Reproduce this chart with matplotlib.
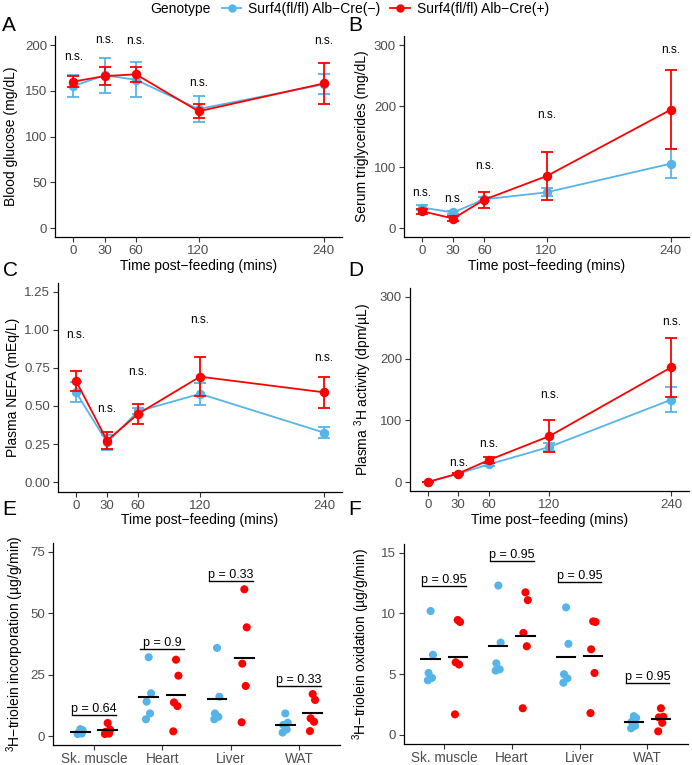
import numpy as np
import matplotlib
matplotlib.use("Agg")
import matplotlib.pyplot as plt
from matplotlib.lines import Line2D

plt.rcParams['font.family'] = ['Liberation Sans', 'DejaVu Sans']
plt.rcParams['mathtext.fontset'] = 'custom'
plt.rcParams['mathtext.rm'] = 'Liberation Sans'
plt.rcParams['mathtext.it'] = 'Liberation Sans:italic'

# ---- data ----
times = [0, 30, 60, 120, 240]

# A: blood glucose
glu_neg = [155, 167, 162, 130, 157]
glu_neg_se = [12, 19, 19, 14, 11]
glu_pos = [160, 166, 168, 127.5, 158]
glu_pos_se = [6, 9.5, 8.5, 7.5, 22]
glu_ns = [187, 206, 204, 159, 204]

# B: serum triglycerides
tg_neg = [33.5, 25.5, 47, 58.5, 105.5]
tg_neg_se = [3.5, 2.7, 3.5, 6.6, 23.7]
tg_pos = [27.5, 15.5, 46.5, 85, 194]
tg_pos_se = [4, 3.5, 13, 39.5, 64.5]
tg_ns = [58, 47.5, 102, 185.5, 292]

# C: plasma NEFA
nefa_neg = [0.59, 0.26, 0.465, 0.58, 0.325]
nefa_neg_se = [0.066, 0.05, 0.02, 0.072, 0.036]
nefa_pos = [0.665, 0.272, 0.448, 0.693, 0.59]
nefa_pos_se = [0.065, 0.057, 0.068, 0.13, 0.104]
nefa_ns = [0.965, 0.478, 0.724, 1.068, 0.816]

# D: plasma 3H activity
h3_neg = [0, 13.5, 28.5, 57, 133.5]
h3_neg_se = [0.5, 1.5, 3, 6.5, 20.5]
h3_pos = [0, 13.8, 35.5, 74.5, 186]
h3_pos_se = [0.5, 1.5, 5, 26.5, 48]
h3_ns = [np.nan, 31, 61, 141, 259]

# E/F: tissue uptake / oxidation
tissues = ["Sk. muscle", "Heart", "Liver", "WAT"]
inc_neg = [[2.8, 2.3, 1.3, 1.0, 0.8],
           [32.1, 17.4, 14.0, 9.2, 6.8],
           [35.9, 16.0, 9.2, 7.8, 6.8],
           [9.2, 5.4, 4.5, 2.7, 1.4]]
inc_pos = [[5.3, 2.6, 1.7, 1.0, 0.8],
           [31.1, 24.6, 13.7, 12.2, 1.9],
           [59.8, 44.3, 29.5, 20.4, 5.6],
           [17.1, 14.7, 7.2, 5.8, 2.0]]
inc_p = ["0.64", "0.9", "0.33", "0.33"]

oxi_neg = [[10.2, 6.6, 5.1, 4.7, 4.5],
           [12.3, 7.6, 5.9, 5.4, 5.3],
           [10.5, 7.5, 5.0, 4.66, 4.3],
           [1.55, 1.4, 1.1, 0.75, 0.55]]
oxi_pos = [[9.46, 9.3, 5.98, 5.8, 1.7],
           [11.74, 11.1, 8.4, 7.3, 2.2],
           [9.35, 9.3, 7.05, 5.1, 1.8],
           [2.2, 1.5, 1.45, 1.0, 0.3]]
oxi_p = ["0.95", "0.95", "0.95", "0.95"]

BLUE = "#56B4E9"
RED = "#FF0000"
GREY = "#4D4D4D"
W, H = 692, 765

fig = plt.figure(figsize=(W / 100, H / 100), dpi=100)


def add_ax(l, t, r, b):
    ax = fig.add_axes([l / W, 1 - b / H, (r - l) / W, (b - t) / H])
    ax.spines[['top', 'right']].set_visible(False)
    ax.spines[['left', 'bottom']].set_linewidth(0.9)
    ax.tick_params(length=3.5, width=0.8, pad=2.3, labelsize=9.5,
                   labelcolor=GREY, color="#333333")
    ax.patch.set_alpha(0)
    ax._box = (l, r)
    return ax


def ylabel_at(ax, text, xpx):
    l, r = ax._box
    ax.set_ylabel(text, fontsize=10)
    ax.yaxis.set_label_coords((xpx - l) / (r - l), 0.5)


def time_panel(box, neg, neg_se, pos, pos_se, ns, ylim, yticks, ytlabels, ylab, ylab_x):
    ax = add_ax(*box)
    ax.errorbar(times, neg, yerr=neg_se, color=BLUE, marker='o', ms=5.8,
                lw=1.3, elinewidth=1.3, capsize=4, capthick=1.3, zorder=2)
    ax.errorbar(times, pos, yerr=pos_se, color=RED, marker='o', ms=5.8,
                lw=1.3, elinewidth=1.3, capsize=4, capthick=1.3, zorder=3)
    for t, y in zip(times, ns):
        if not np.isnan(y):
            ax.text(t, y, "n.s.", ha='center', va='center', fontsize=8.5)
    ax.set_xlim(-17.5, 257.5)
    ax.set_xticks(times)
    ax.set_ylim(*ylim)
    ax.set_yticks(yticks)
    ax.set_yticklabels(ytlabels)
    ax.set_xlabel("Time post\u2212feeding (mins)", fontsize=10, labelpad=1)
    ylabel_at(ax, ylab, ylab_x)
    return ax


def dot_panel(box, neg, pos, pvals, offset, ylim, yticks, ylab, ylab_x):
    ax = add_ax(*box)
    jit = [0.0, 0.035, -0.03, 0.02, -0.04]
    for i, (gn, gp) in enumerate(zip(neg, pos)):
        c = i + 1
        for grp, dx, col in ((gn, -0.2, BLUE), (gp, 0.2, RED)):
            xs = [c + dx + jit[k % len(jit)] for k in range(len(grp))]
            ax.scatter(xs, grp, s=34, color=col, edgecolors='none', zorder=2)
            m = np.mean(grp)
            ax.plot([c + dx - 0.135, c + dx + 0.135], [m, m], color='black', lw=1.5, zorder=3)
        top = max(max(gn), max(gp)) + offset
        ax.plot([c - 0.32, c + 0.32], [top, top], color='black', lw=1.0)
        ax.text(c, top, "p = " + pvals[i], ha='center', va='bottom', fontsize=9)
    ax.set_xlim(0.4, 4.6)
    ax.set_xticks(range(1, 5))
    ax.set_xticklabels(tissues, fontsize=9.8)
    ax.tick_params(axis='x', pad=1.5)
    ax.set_ylim(*ylim)
    ax.set_yticks(yticks)
    ylabel_at(ax, ylab, ylab_x)
    return ax


time_panel((55, 35.85, 342, 237.15), glu_neg, glu_neg_se, glu_pos, glu_pos_se, glu_ns,
           (-10, 210), [0, 50, 100, 150, 200], ["0", "50", "100", "150", "200"],
           "Blood glucose (mg/dL)", 18.5)
time_panel((404, 35.85, 689, 237.15), tg_neg, tg_neg_se, tg_pos, tg_pos_se, tg_ns,
           (-15, 315), [0, 100, 200, 300], ["0", "100", "200", "300"],
           "Serum triglycerides (mg/dL)", 369)
time_panel((58, 282.5, 342, 491.5), nefa_neg, nefa_neg_se, nefa_pos, nefa_pos_se, nefa_ns,
           (-0.0625, 1.3125), [0, 0.25, 0.5, 0.75, 1.0, 1.25],
           ["0.00", "0.25", "0.50", "0.75", "1.00", "1.25"],
           "Plasma NEFA (mEq/L)", 20)
time_panel((410, 287.7, 689, 491.3), h3_neg, h3_neg_se, h3_pos, h3_pos_se, h3_ns,
           (-15, 315), [0, 100, 200, 300], ["0", "100", "200", "300"],
           "Plasma $^{3}$H activity (dpm/\u00b5L)", 374)
dot_panel((53, 542.8, 340, 745.2), inc_neg, inc_pos, inc_p, 3.3,
          (-3.75, 78.75), [0, 25, 50, 75],
          "$^{3}$H\u2212triolein incorporation (\u00b5g/g/min)", 26)
dot_panel((403.5, 543.6, 688, 744.1), oxi_neg, oxi_pos, oxi_p, 2.05,
          (-0.75, 15.75), [0, 5, 10, 15],
          "$^{3}$H\u2212triolein oxidation (\u00b5g/g/min)", 372)

# panel letters
for lab, x, y in (("A", 2, 16), ("B", 348, 16), ("C", 3, 261), ("D", 348, 261),
                  ("E", 2, 500), ("F", 348, 500)):
    fig.text(x / W, 1 - y / H, lab, fontsize=15, ha='left', va='top')

# legend
fig.text(150 / W, 1 - 9 / H, "Genotype", fontsize=10, ha='left', va='center')
handles = [Line2D([], [], color=BLUE, marker='o', ms=5, lw=1.3),
           Line2D([], [], color=RED, marker='o', ms=5, lw=1.3)]
fig.legend(handles, ["Surf4(fl/fl) Alb\u2212Cre(\u2212)", "Surf4(fl/fl) Alb\u2212Cre(+)"],
           loc='center left', bbox_to_anchor=(222 / W, 1 - 9 / H), ncol=2, frameon=False,
           fontsize=10, handlelength=1.4, handletextpad=0.5, columnspacing=0.7,
           borderpad=0, borderaxespad=0)

fig.savefig("out.png", dpi=100)
